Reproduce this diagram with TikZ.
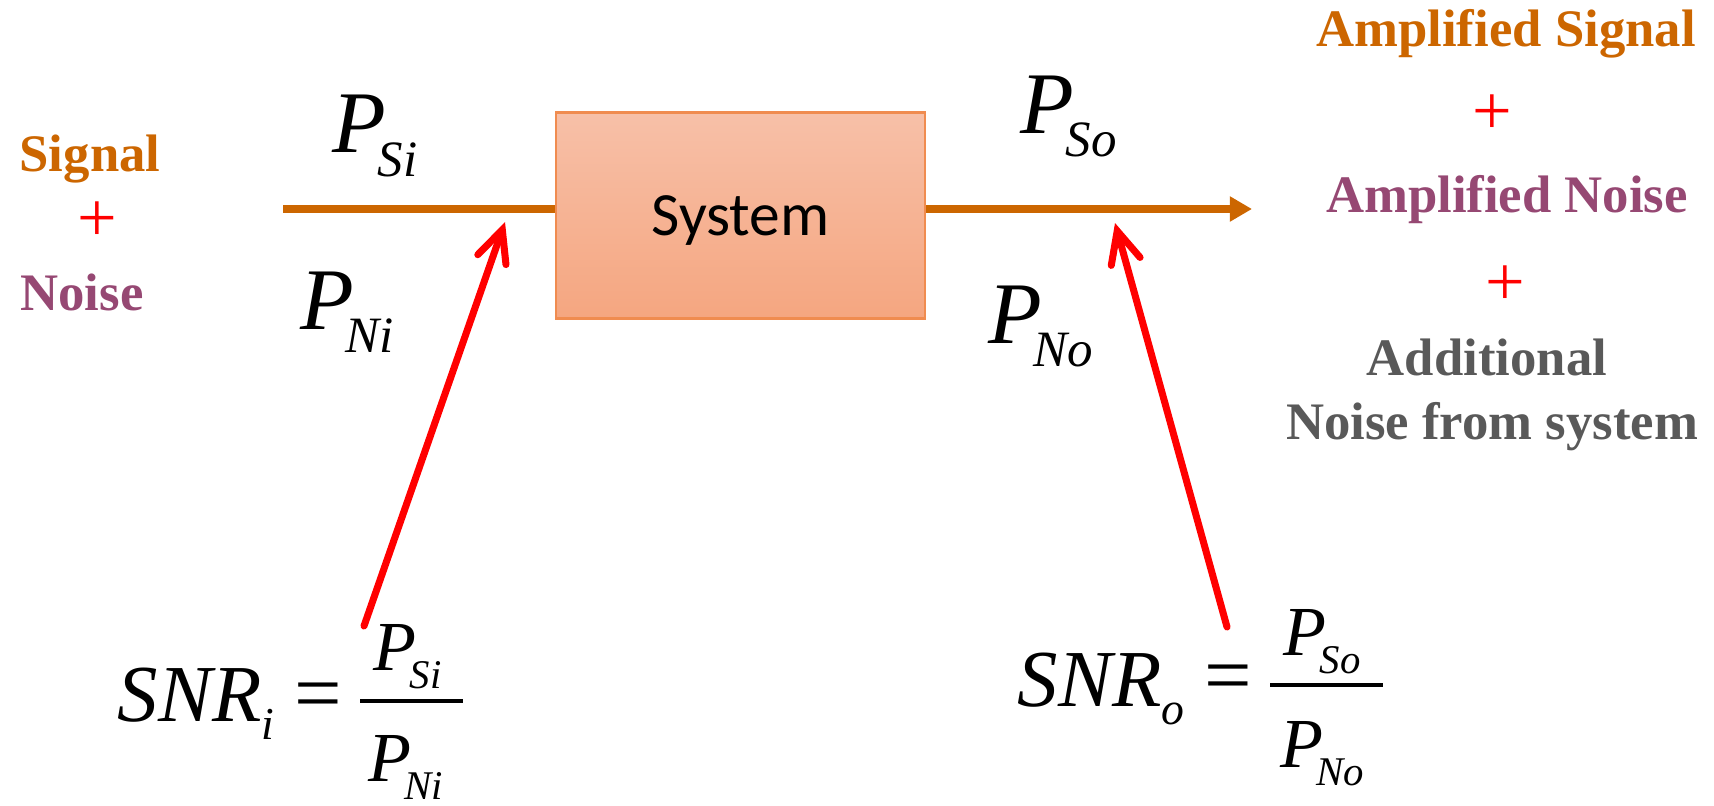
\documentclass[tikz,border=0pt]{standalone}
\usepackage{fontspec}
\usetikzlibrary{arrows.meta, positioning}
\newfontfamily\tnr{Liberation Serif}
\newfontfamily\calib{Carlito}
\definecolor{sigc}{RGB}{204,102,0}
\definecolor{noisec}{RGB}{150,72,115}
\definecolor{addc}{RGB}{89,89,89}
\definecolor{boxtop}{RGB}{247,192,168}
\definecolor{boxbot}{RGB}{245,166,128}
\definecolor{boxline}{RGB}{240,140,80}

% power symbol P with a low subscript
\newcommand{\pw}[2]{{\fontsize{#1}{#1}\selectfont\tnr\itshape P\kern-0.1em\raisebox{-0.27em}[\height][0pt]{\fontsize{\the\dimexpr#1*58/100\relax}{\the\dimexpr#1*58/100\relax}\selectfont #2}}}
% SNR with subscript
\newcommand{\snrtxt}[1]{{\fontsize{23pt}{23pt}\selectfont\tnr\itshape SNR\raisebox{-5.4pt}[\height][0pt]{\fontsize{13pt}{13pt}\selectfont #1}}}

\begin{document}
\begin{tikzpicture}[x=0.1mm,y=-0.1mm,
  txt/.style={inner sep=0pt, font=\fontsize{15pt}{15pt}\selectfont\tnr\bfseries},
  plus/.style={inner sep=0pt, red, font=\fontsize{20pt}{20pt}\selectfont\tnr},
  sym/.style={inner sep=0pt, anchor=base west},
  eqsign/.style={inner sep=0pt, font=\fontsize{24pt}{24pt}\selectfont\tnr},
  feed/.style={sigc, line width=2.1pt},
  pointer/.style={red, line width=2pt, line cap=round, -{Straight Barb[length=9pt,width=8.5pt,line cap=round]}}]
  \useasboundingbox (0,0) rectangle (1714,805);

  % system block
  \node[draw=boxline, line width=0.8pt, top color=boxtop, bottom color=boxbot,
    minimum width=36.9mm, minimum height=20.6mm, inner sep=0pt, text depth=0pt,
    font=\fontsize{17.5pt}{17.5pt}\selectfont\calib] (system) at (740.5,215.5) {System};

  % signal path
  \coordinate (src) at (283,209);
  \coordinate (dst) at (1252,209);
  \draw[feed] (src) -- (src -| system.west);
  \draw[feed, -{Triangle[length=6.3pt,width=6.8pt]}] (system.east |- dst) -- (dst);

  % input side
  \node[txt, sigc, anchor=base] (sig) at (90,172) {Signal};
  \node[plus] (plusin) at (97,222) {+};
  \node[txt, noisec, anchor=base] (noi) at (82,310) {Noise};
  \node[sym] (psi) at (332,153) {\pw{25pt}{Si}};
  \node[sym] (pni) at (300,329) {\pw{25pt}{Ni}};

  % output side
  \node[sym] (pso) at (1020,133) {\pw{25pt}{So}};
  \node[sym] (pno) at (988,343) {\pw{25pt}{No}};
  \node[txt, sigc, anchor=base] (asig) at (1506,47) {Amplified Signal};
  \node[plus] (plus1) at (1492,115) {+};
  \node[txt, noisec, anchor=base] (anoi) at (1507,213) {Amplified Noise};
  \node[plus] (plus2) at (1505,286) {+};
  \node[txt, addc, anchor=base] (add1) at (1487,375) {Additional};
  \node[txt, addc, anchor=base] (add2) at (1492,439) {Noise from system};

  % SNR at the input
  \node[sym] (snri) at (117,721) {\snrtxt{i}};
  \node[eqsign] (eqi) at (318,702) {=};
  \node[sym] (numi) at (373,670) {\pw{20pt}{Si}};
  \node[sym] (deni) at (368,781) {\pw{20pt}{Ni}};
  \draw[line width=1pt] (360,701) -- (463,701);

  % SNR at the output
  \node[sym] (snro) at (1017,706) {\snrtxt{o}};
  \node[eqsign] (eqo) at (1228,684) {=};
  \node[sym] (numo) at (1283,655) {\pw{20pt}{So}};
  \node[sym] (deno) at (1280,767) {\pw{20pt}{No}};
  \draw[line width=1pt] (1270,685) -- (1383,685);

  % pointers
  \coordinate (snrit) at (364,626);
  \coordinate (inpt) at (505,222);
  \coordinate (snrot) at (1227,627);
  \coordinate (outpt) at (1115,223);
  \draw[pointer] (snrit) -- (inpt);
  \draw[pointer] (snrot) -- (outpt);
\end{tikzpicture}
\end{document}
